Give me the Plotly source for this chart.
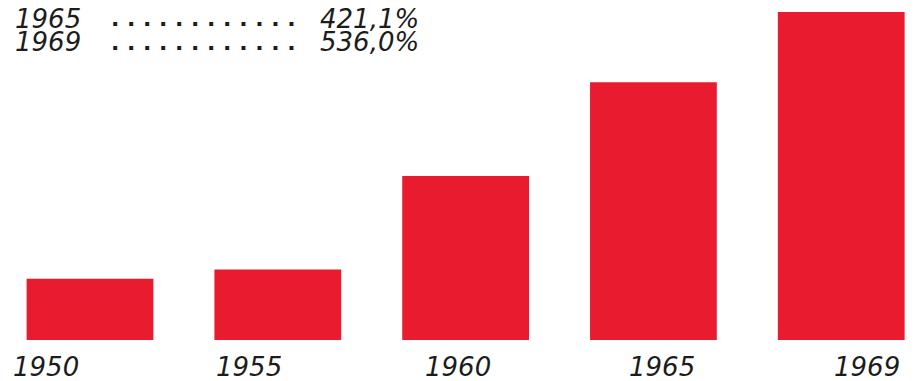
import plotly.graph_objects as go

# Data
years = ["1950", "1955", "1960", "1965", "1969"]
values = [100.0, 115.0, 268.0, 421.1, 536.0]
legend_years = ["1965", "1969"]
legend_values = ["421,1%", "536,0%"]

# Style / layout helpers (not data)
label_xshift = [-44, -29, -8, 9, 26]
BAR_COLOR = "#E91B2F"
TEXT_COLOR = "#1c1c1c"
FONT = "DejaVu Sans, Liberation Sans, Arial, sans-serif"
W, H = 911, 373  # page body has an 8px margin

idx = list(range(len(years)))

fig = go.Figure()
fig.add_trace(go.Bar(
    x=idx, y=values, marker=dict(color=BAR_COLOR, line=dict(width=0)),
    width=0.675, hoverinfo="skip"
))

annotations = []
for i, (yr, sh) in enumerate(zip(years, label_xshift)):
    annotations.append(dict(
        x=i, y=0, xref="x", yref="paper", text="<i>%s</i>" % yr,
        showarrow=False, xanchor="center", yanchor="middle",
        xshift=sh, yshift=-27,
        font=dict(family=FONT, size=26, color=TEXT_COLOR)
    ))

line_shifts = [-10.5, -34]
for yr, val, ys in zip(legend_years, legend_values, line_shifts):
    annotations.append(dict(
        x=5 / W, y=1, xref="paper", yref="paper", text="<i>%s</i>" % yr,
        showarrow=False, xanchor="left", yanchor="middle", yshift=ys,
        font=dict(family=FONT, size=26, color=TEXT_COLOR)
    ))
    annotations.append(dict(
        x=101 / W, y=1, xref="paper", yref="paper",
        text="<b>" + " ".join(["."] * 12) + "</b>",
        showarrow=False, xanchor="left", yanchor="middle", yshift=ys,
        font=dict(family=FONT, size=22, color=TEXT_COLOR)
    ))
    annotations.append(dict(
        x=413 / W, y=1, xref="paper", yref="paper", text="<i>%s</i>" % val,
        showarrow=False, xanchor="right", yanchor="middle", yshift=ys,
        font=dict(family=FONT, size=26, color=TEXT_COLOR)
    ))

fig.update_layout(
    width=W, height=H,
    margin=dict(l=0, r=0, t=0, b=41, pad=0),
    paper_bgcolor="white", plot_bgcolor="white",
    showlegend=False,
    xaxis=dict(range=[-0.4366, 4.414], visible=False, fixedrange=True),
    yaxis=dict(range=[0, 542.5], visible=False, fixedrange=True),
    annotations=annotations,
)

fig.write_html("out.html")
